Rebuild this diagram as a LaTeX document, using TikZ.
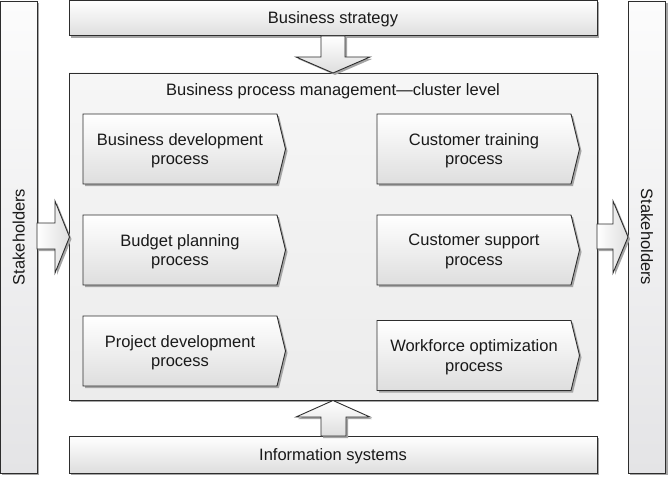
\documentclass[tikz,border=0pt]{standalone}
\usepackage{fontspec}
\setmainfont{Liberation Sans}
\usetikzlibrary{shadows}
\definecolor{bd}{RGB}{45,45,45}
\definecolor{shd}{RGB}{165,165,165}
\definecolor{boxbot}{RGB}{222,222,222}
\definecolor{bartop}{RGB}{252,252,252}
\definecolor{barbot}{RGB}{228,228,230}
\definecolor{maintop}{RGB}{246,246,246}
\definecolor{mainbot}{RGB}{236,236,236}
\tikzset{
  x=1pt, y=-1pt,
  dshadow/.style={drop shadow={shadow xshift=2pt, shadow yshift=-2pt, fill=shd, opacity=1}},
  boxline/.style={draw=bd, line width=0.9pt},
  gradbox/.style={boxline, dshadow, top color=white, bottom color=boxbot, rectangle, inner sep=0pt},
  barbox/.style={boxline, dshadow, top color=bartop, bottom color=barbot, rectangle, inner sep=0pt},
  mainbox/.style={boxline, dshadow, top color=maintop, bottom color=mainbot, rectangle, inner sep=0pt},
  blockarrow/.style={boxline, dshadow, top color=white, bottom color=boxbot},
  harrow/.style={boxline, dshadow, left color=white, right color=boxbot},
  procshape/.style={boxline, dshadow, top color=white, bottom color=boxbot},
  txt/.style={font=\fontsize{16.5}{19.5}\selectfont, text=black!90, align=center, inner sep=0pt},
}
\newcommand{\procbox}[4]{% name, x1, y1, text
  \path[procshape] (#2,#3) -- ++(194,0) -- ++(8.5,35) -- ++(-8.5,35) -- ++(-194,0) -- cycle;
  \node[txt] (#1) at ({#2+97},{#3+36.5}) {#4};
}
\begin{document}
\begin{tikzpicture}
\useasboundingbox (0,0) rectangle (668,476);
% side bars
\node[barbox, minimum width=36.5pt, minimum height=472pt] (lbar) at (18.7,237) {};
\node[barbox, minimum width=37.5pt, minimum height=472pt] (rbar) at (647,237) {};
\node[txt, rotate=90] (lstake) at (lbar.center) {Stakeholders};
\node[txt, rotate=-90] (rstake) at (rbar.center) {Stakeholders};
% top and bottom boxes
\node[gradbox, minimum width=528pt, minimum height=35.5pt] (bs) at (333,18.2) {};
\node[txt] (bstxt) at (333,19.5) {Business strategy};
\node[gradbox, minimum width=528pt, minimum height=37pt] (is) at (333,454.5) {};
\node[txt] (istxt) at (333,456) {Information systems};
% main box
\node[mainbox, minimum width=528pt, minimum height=327pt] (bpm) at (333,236.5) {};
\node[txt] (title) at (333,91.5) {Business process management---cluster level};
% processes
\procbox{p1}{83}{114}{Business development\\process}
\procbox{p2}{83}{215}{Budget planning\\process}
\procbox{p3}{83}{316}{Project development\\process}
\procbox{p4}{377}{114}{Customer training\\process}
\procbox{p5}{377}{215}{Customer support\\process}
\procbox{p6}{377}{320.5}{Workforce optimization\\process}
% block arrows
\path[blockarrow] (321,36) -- (345,36) -- (345,57) -- (370,57) -- (333,73) -- (296,57) -- (321,57) -- cycle;
\path[blockarrow] (321,436) -- (346,436) -- (346,417) -- (370,417) -- (333,400.5) -- (296,417) -- (321,417) -- cycle;
\path[harrow] (37,223) -- (55,223) -- (55,201) -- (69.5,237) -- (55,273) -- (55,249) -- (37,249) -- cycle;
\path[harrow] (597,224) -- (613,224) -- (613,201) -- (628,237) -- (613,273) -- (613,249) -- (597,249) -- cycle;
\end{tikzpicture}
\end{document}
